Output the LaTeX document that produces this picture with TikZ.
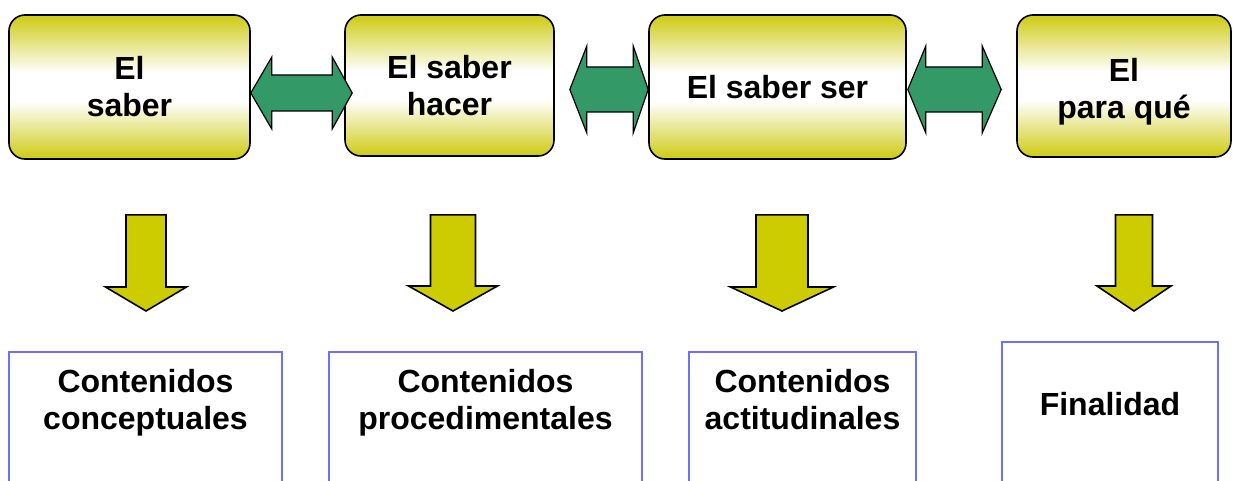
\documentclass[tikz,border=0pt]{standalone}
\usepackage{fontspec}
\setmainfont{Liberation Sans}
\usetikzlibrary{calc}
\definecolor{boxy}{RGB}{208,205,30}
\definecolor{arry}{RGB}{204,204,0}
\definecolor{arrg}{RGB}{51,153,102}
\definecolor{bluel}{RGB}{110,110,255}
\pgfdeclareverticalshading{yboxshade}{100bp}{color(0bp)=(boxy); color(26bp)=(boxy); color(45bp)=(white); color(55bp)=(white); color(74bp)=(boxy); color(100bp)=(boxy)}
\newcommand\dblarr[6]{\draw[garrow] (#1) -- ($(#1)+(#3,-#6)$) -- ($(#1)+(#3,-#5)$) -- ($(#2)+(-#4,-#5)$) -- ($(#2)+(-#4,-#6)$) -- (#2) -- ($(#2)+(-#4,#6)$) -- ($(#2)+(-#4,#5)$) -- ($(#1)+(#3,#5)$) -- ($(#1)+(#3,#6)$) -- cycle;}
\newcommand\downarr[5]{\draw[yarrow] ($(#1)+(-#3,0)$) -- ($(#1)+(#3,0)$) -- ($(#2)+(#3,-#5)$) -- ($(#2)+(#4,-#5)$) -- (#2) -- ($(#2)+(-#4,-#5)$) -- ($(#2)+(-#3,-#5)$) -- cycle;}
\begin{document}
\begin{tikzpicture}[x=1pt,y=-1pt,
  txt/.style={align=center, font=\bfseries\fontsize{32}{37}\selectfont, inner sep=0pt},
  topbox/.style={txt, draw=black, line width=1.6pt, rounded corners=16pt, shading=yboxshade},
  botbox/.style={draw=none, anchor=north, inner sep=0pt},
  bside/.style={draw=bluel, line width=1.6pt},
  garrow/.style={fill=arrg, draw=black, line width=1.2pt, line join=miter},
  yarrow/.style={fill=arry, draw=black, line width=1.6pt, line join=miter}]
\useasboundingbox (0,0) rectangle (1233,481);
% top boxes
\node[topbox, minimum width=241pt, minimum height=144pt] (t1) at (129.5,87) {El\\saber};
\node[topbox, minimum width=209pt, minimum height=141pt] (t2) at (449.5,85.5) {El saber\\hacer};
\node[topbox, minimum width=257pt, minimum height=144pt] (t3) at (777.5,87) {El saber ser};
\node[topbox, minimum width=214pt, minimum height=142pt] (t4) at (1124,86) {};
\node[txt] (t4t) at (1124,92) {El\\para qué};
% bottom boxes
\node[botbox, minimum width=273pt, minimum height=129pt] (b1) at (145.5,352) {};
\node[botbox, minimum width=313pt, minimum height=129pt] (b2) at (485.5,352) {};
\node[botbox, minimum width=227pt, minimum height=129pt] (b3) at (802.5,352) {};
\node[botbox, minimum width=216pt, minimum height=139pt] (b4) at (1110,342) {};
\foreach \b in {b1,b2,b3,b4}{\draw[bside] (\b.south west) -- (\b.north west) -- (\b.north east) -- (\b.south east);}
\node[txt] (l1) at (145.5,403) {Contenidos\\conceptuales};
\node[txt] (l2) at (485.5,403) {Contenidos\\procedimentales};
\node[txt] (l3) at (802.5,400) {Contenidos\\actitudinales};
\node[txt] (l4) at (1110,404) {Finalidad};
% green double arrows
\coordinate (g1a) at ($(t1.east)+(0,6)$);
\coordinate (g1b) at ($(t2.west)+(8,7.5)$);
\coordinate (g2a) at ($(t2.east)+(15,4)$);
\coordinate (g2b) at ($(t3.west)+(0,2.5)$);
\coordinate (g3a) at ($(t3.east)+(1,2.5)$);
\coordinate (g3b) at ($(t4.west)+(-15,3.5)$);
\dblarr{g1a}{g1b}{21}{20}{18}{36}
\dblarr{g2a}{g2b}{17}{15}{22.5}{43.5}
\dblarr{g3a}{g3b}{18}{19}{22.5}{43.5}
% yellow down arrows
\coordinate (d1a) at ($(t1.south)+(16.5,55)$);
\coordinate (d1b) at ($(b1.north)+(0.5,-41)$);
\coordinate (d2a) at ($(t2.south)+(3.5,58)$);
\coordinate (d2b) at ($(b2.north)+(-32.5,-41)$);
\coordinate (d3a) at ($(t3.south)+(4.5,55)$);
\coordinate (d3b) at ($(b3.north)+(-20.5,-41)$);
\coordinate (d4a) at ($(t4.south)+(10,57)$);
\coordinate (d4b) at ($(b4.north)+(24,-31)$);
\downarr{d1a}{d1b}{20}{40.5}{24}
\downarr{d2a}{d2b}{22.5}{44.5}{25}
\downarr{d3a}{d3b}{26}{51.5}{24}
\downarr{d4a}{d4b}{18.5}{37}{25}
\end{tikzpicture}
\end{document}
